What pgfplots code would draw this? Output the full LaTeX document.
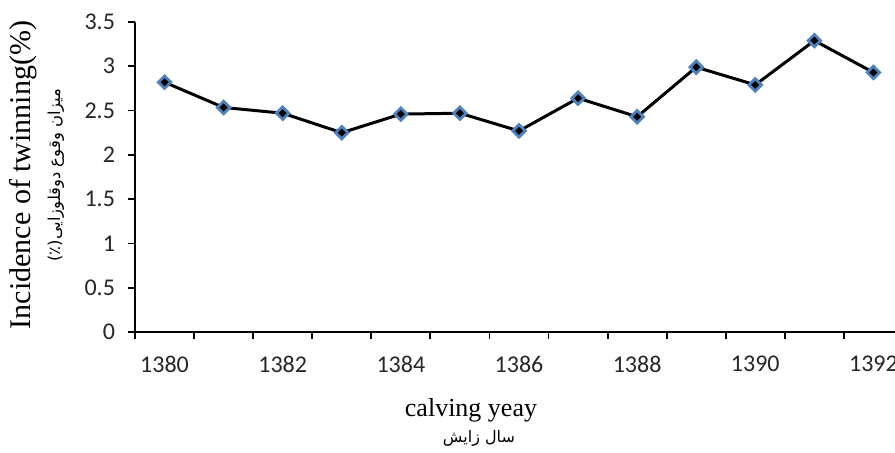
\documentclass[border=0pt]{standalone}
\usepackage{fontspec}
\usepackage{pgfplots}
\pgfplotsset{compat=1.18}
\setmainfont{Liberation Serif}
\newfontfamily\carlito{Carlito}
\newfontfamily\arabicfont[Script=Arabic]{DejaVu Sans}
\TeXXeTstate=1
\definecolor{mblue}{RGB}{79,129,189}

\begin{document}
\begin{tikzpicture}
\begin{axis}[
  at={(67.5pt,-166pt)}, anchor=south west,
  scale only axis, width=384pt, height=155pt,
  xmin=1379.5, xmax=1392.5, ymin=0, ymax=3.5,
  axis x line*=bottom, axis y line*=left,
  axis line style={line width=0.9pt},
  tick align=outside, major tick length=3.5pt,
  tick style={line width=0.9pt, black},
  xtick={1379.5,1380.5,...,1392.5},
  xticklabels={},
  extra x ticks={1380,1382,1384,1386,1388,1390,1392},
  extra x tick labels={1380,1382,1384,1386,1388,1390,1392},
  extra x tick style={tick style={draw=none}, xticklabel style={yshift=-5pt}},
  ytick={0,0.5,...,3.5},
  ticklabel style={font=\carlito\fontsize{12}{12}\selectfont, text=black!85},
  yticklabel style={xshift=-3pt},
  /pgf/number format/assume math mode=true,
  clip=false,
]
\addplot[line width=1.5pt, black, mark=square*, mark size=2.2pt,
  mark options={rotate=45, fill=black, draw=mblue, line width=1.4pt, solid}]
coordinates {
(1380,2.82) (1381,2.535) (1382,2.47) (1383,2.25) (1384,2.46) (1385,2.47)
(1386,2.27) (1387,2.64) (1388,2.43) (1389,2.99) (1390,2.79) (1391,3.29) (1392,2.93)
};
\end{axis}
\begin{scope}[x=0.5pt,y=-0.5pt]
\node[rotate=90, font=\fontsize{15}{15}\selectfont] at (23,175) {Incidence of twinning(\%)};
\node[rotate=90, font=\arabicfont\fontsize{8.2}{8.2}\selectfont] at (56,175) {\beginR میزان وقوع دوقلوزایی\beginL(٪)\endL\endR};
\node[font=\fontsize{13}{13}\selectfont] at (471,410) {calving yeay};
\node[font=\arabicfont\fontsize{8}{8}\selectfont] at (479,438) {\beginR سال زایش\endR};
\end{scope}
\pgfresetboundingbox
\path[use as bounding box] (0,0) rectangle (447.5pt,-226.5pt);
\end{tikzpicture}
\end{document}
